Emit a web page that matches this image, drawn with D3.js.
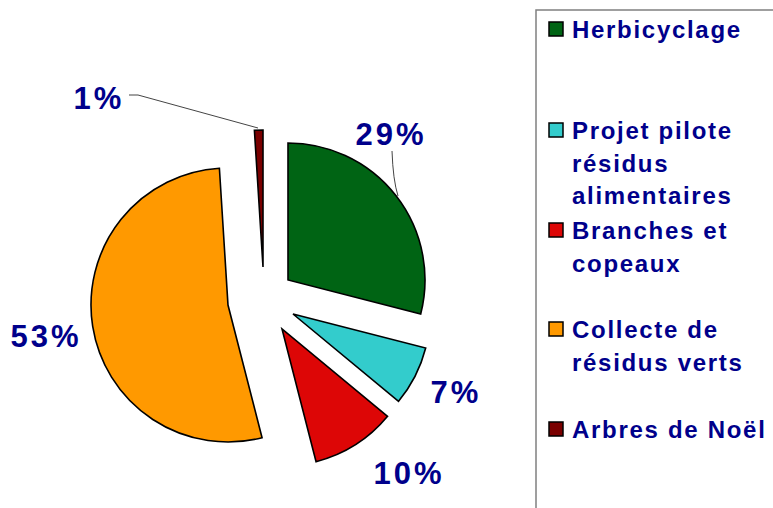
<!DOCTYPE html>
<html>
<head>
<meta charset="utf-8">
<script src="https://cdn.jsdelivr.net/npm/d3@7/dist/d3.min.js"></script>
<style>
  html, body { margin: 0; padding: 0; background: #fff; }
  svg { display: block; }
  text { font-family: "Liberation Sans", Arial, sans-serif; font-weight: bold; fill: #00008B; }
</style>
</head>
<body>
<script>
// ---- data ----
const categories = ["Herbicyclage", "Projet pilote résidus alimentaires", "Branches et copeaux", "Collecte de résidus verts", "Arbres de Noël"];
const values = [29, 7, 10, 53, 1];
const percentLabels = ["29%", "7%", "10%", "53%", "1%"];
const legendLines = [["Herbicyclage"], ["Projet pilote", "résidus", "alimentaires"], ["Branches et", "copeaux"], ["Collecte de", "résidus verts"], ["Arbres de Noël"]];
const colors = ["#006414", "#33CCCC", "#DD0606", "#FF9900", "#7A0000"];

// ---- layout ----
const W = 773, H = 508;
const center = [263, 300];
const radius = 137;
const explode = [[25, -20], [30, 14], [19, 29], [-35, 5], [0, -33]];
const labelPos = [[391, 145], [456, 403], [409, 484], [46, 347], [99, 109]];
const legendX = 549, legendTextX = 572;
const legendTop = [22, 123, 223, 322, 422];
const lineH = 32.5;

const svg = d3.select("body").append("svg").attr("width", W).attr("height", H);

const pie = d3.pie().sort(null).value(d => d)(values);
const arc = d3.arc().innerRadius(0).outerRadius(radius);

// leader lines
svg.append("path")
  .attr("d", "M392,151 Q393,180 398,196")
  .attr("fill", "none").attr("stroke", "#444").attr("stroke-width", 1);
svg.append("path")
  .attr("d", "M129,95 L138,95 L258,128")
  .attr("fill", "none").attr("stroke", "#444").attr("stroke-width", 1);

svg.append("g").selectAll("path")
  .data(pie)
  .join("path")
  .attr("transform", (d, i) => `translate(${center[0] + explode[i][0]},${center[1] + explode[i][1]})`)
  .attr("d", arc)
  .attr("fill", (d, i) => colors[i])
  .attr("stroke", "#000")
  .attr("stroke-width", 1.6)
  .attr("stroke-linejoin", "miter");

svg.append("g").selectAll("text")
  .data(percentLabels)
  .join("text")
  .attr("x", (d, i) => labelPos[i][0])
  .attr("y", (d, i) => labelPos[i][1])
  .attr("text-anchor", "middle")
  .attr("font-size", 31)
  .attr("letter-spacing", 3)
  .text(d => d);

// legend frame
svg.append("path")
  .attr("d", `M536,${H + 5} L536,10 L${W + 5},10`)
  .attr("fill", "none").attr("stroke", "#808080").attr("stroke-width", 1.5);

const lg = svg.append("g").selectAll("g")
  .data(categories)
  .join("g");

lg.append("rect")
  .attr("x", legendX)
  .attr("y", (d, i) => legendTop[i])
  .attr("width", 14).attr("height", 14)
  .attr("fill", (d, i) => colors[i])
  .attr("stroke", "#000").attr("stroke-width", 1.5);

lg.each(function (d, i) {
  const g = d3.select(this);
  legendLines[i].forEach((ln, j) => {
    g.append("text")
      .attr("x", legendTextX)
      .attr("y", legendTop[i] + 16 + j * lineH)
      .attr("font-size", 24)
      .attr("letter-spacing", 1.7)
      .text(ln);
  });
});
</script>
</body>
</html>
